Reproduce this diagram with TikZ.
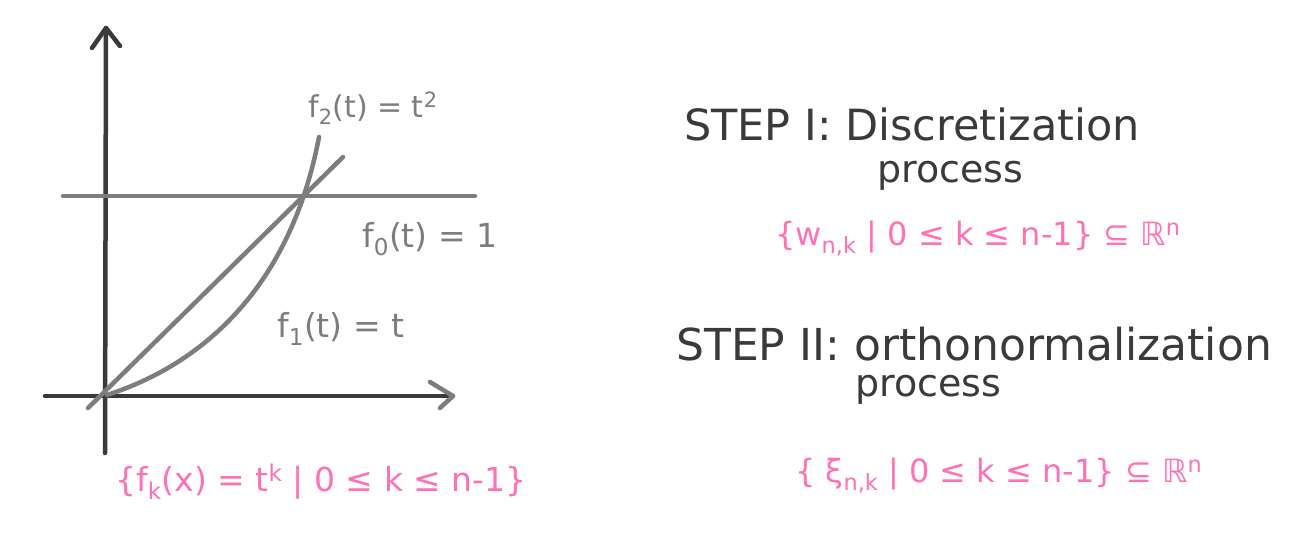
\documentclass[tikz,border=0pt]{standalone}
\usepackage{fontspec}
\setmainfont{DejaVu Sans}
\definecolor{ink}{RGB}{58,58,58}
\definecolor{curvegray}{RGB}{125,125,125}
\definecolor{pinkink}{RGB}{255,112,182}
\newcommand{\sbs}[1]{\textsubscript{#1}}
\newcommand{\sps}[1]{\textsuperscript{#1}}
\begin{document}
\begin{tikzpicture}[x=1pt,y=-1pt,
  axisline/.style={draw=ink,line width=4.5pt,line cap=round,line join=round},
  fnline/.style={draw=curvegray,line width=4.5pt,line cap=round,line join=round},
  glabel/.style={text=curvegray,inner sep=0pt,anchor=base west},
  steptext/.style={text=ink,inner sep=0pt,anchor=base west},
  settext/.style={text=pinkink,inner sep=0pt,anchor=base west}]
\useasboundingbox[fill=white] (0,0) rectangle (1299,541);

% axes
\coordinate (ybot) at (105,453);
\coordinate (ytop) at (106,28);
\coordinate (xl) at (45,396);
\coordinate (xr) at (453,396);
\draw[axisline] (ybot) -- (ytop);
\draw[axisline] (92,48) -- (ytop) -- (120,46);
\draw[axisline] (xl) -- (xr);
\draw[fnline] (430,382) -- (xr) -- (440,408);

% functions
\coordinate (f0l) at (63,196);
\coordinate (f0r) at (475,196);
\draw[fnline] (f0l) -- (f0r);
\coordinate (f1a) at (88,408);
\coordinate (f1b) at (343,157);
\draw[fnline] (f1a) -- (f1b);
\coordinate (f2a) at (107,395);
\coordinate (f2b) at (319,137);
\draw[fnline] (f2a) .. controls (200,365) and (290,290) .. (f2b);

% graph labels
\node[glabel,font=\fontsize{30}{30}\selectfont] (l2) at (308,117) {f\sbs{2}(t) = t\sps{2}};
\node[glabel,font=\fontsize{33}{33}\selectfont] (l0) at (362,247) {f\sbs{0}(t) = 1};
\node[glabel,font=\fontsize{33}{33}\selectfont] (l1) at (277,337) {f\sbs{1}(t) = t};
\node[settext,font=\fontsize{33}{33}\selectfont] (setf) at (115,491) {\{f\sbs{k}(x) = t\sps{k} | 0 ≤ k ≤ n-1\}};

% steps
\node[steptext,font=\fontsize{43}{43}\selectfont] (s1) at (684,140) {STEP I: Discretization};
\node[steptext,font=\fontsize{38}{38}\selectfont] (p1) at (877,182) {process};
\node[settext,font=\fontsize{32}{32}\selectfont] (set1) at (775,245) {\{w\sbs{n,k} | 0 ≤ k ≤ n-1\} ⊆ ℝ\sps{n}};
\node[steptext,font=\fontsize{44}{44}\selectfont] (s2) at (676,360) {STEP II: orthonormalization};
\node[steptext,font=\fontsize{38}{38}\selectfont] (p2) at (855,396) {process};
\node[settext,font=\fontsize{32}{32}\selectfont] (set2) at (795,482) {\{ ξ\sbs{n,k} | 0 ≤ k ≤ n-1\} ⊆ ℝ\sps{n}};
\end{tikzpicture}
\end{document}
